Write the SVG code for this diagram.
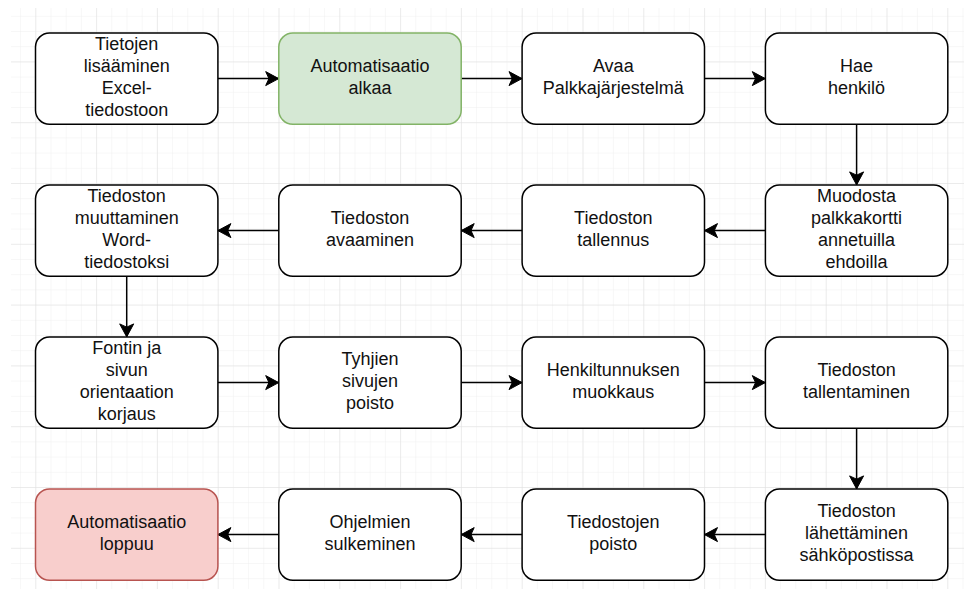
<svg xmlns="http://www.w3.org/2000/svg" width="964" height="589" viewBox="0 0 964 589">
<style>
.n rect{fill:#fff;stroke:#000;stroke-width:1.5}
.n.start rect{fill:#d5e8d4;stroke:#82b366}
.n.end rect{fill:#f8cecc;stroke:#b85450}
.n text{font-family:"Liberation Sans",Arial,sans-serif;font-size:18px;fill:#111;text-anchor:middle}
.e path{fill:none;stroke:#000;stroke-width:1.5}
</style>
<defs>
<pattern id="gmin" x="35.3" y="0.6" width="15.2" height="15.2" patternUnits="userSpaceOnUse">
<path d="M0,0 V15.2 M0,0 H15.2" fill="none" stroke="#efefef" stroke-width="1"/>
</pattern>
<pattern id="gmaj" x="35.3" y="0.6" width="60.8" height="60.8" patternUnits="userSpaceOnUse">
<path d="M0,0 V60.8 M0,0 H60.8" fill="none" stroke="#e0e0e0" stroke-width="1"/>
</pattern>
<marker id="arr" markerUnits="userSpaceOnUse" viewBox="-14 -8 15 16" refX="0" refY="0" markerWidth="15" markerHeight="16" orient="auto">
<path d="M0,0 L-13,-7 L-9.75,0 L-13,7 Z" fill="#000" stroke="#000" stroke-width="1"/>
</marker>
</defs>
<rect width="964" height="589" fill="#fff"/>
<rect x="11" y="8" width="953" height="581" fill="url(#gmin)"/>
<rect x="11" y="8" width="953" height="581" fill="url(#gmaj)"/>

<g id="edges" class="e">
<path d="M217.9,78.6 H278.7" marker-end="url(#arr)"/>
<path d="M461.2,78.6 H522" marker-end="url(#arr)"/>
<path d="M704.5,78.6 H765.3" marker-end="url(#arr)"/>
<path d="M856.6,124.2 V184.9" marker-end="url(#arr)"/>
<path d="M765.3,230.6 H704.5" marker-end="url(#arr)"/>
<path d="M522,230.6 H461.2" marker-end="url(#arr)"/>
<path d="M278.7,230.6 H217.9" marker-end="url(#arr)"/>
<path d="M126.7,276.2 V336.9" marker-end="url(#arr)"/>
<path d="M217.9,382.6 H278.7" marker-end="url(#arr)"/>
<path d="M461.2,382.6 H522" marker-end="url(#arr)"/>
<path d="M704.5,382.6 H765.3" marker-end="url(#arr)"/>
<path d="M856.6,428.2 V488.9" marker-end="url(#arr)"/>
<path d="M765.3,534.6 H704.5" marker-end="url(#arr)"/>
<path d="M522,534.6 H461.2" marker-end="url(#arr)"/>
<path d="M278.7,534.6 H217.9" marker-end="url(#arr)"/>
</g>

<g id="n1" class="n"><rect x="35.5" y="33" width="182.4" height="91.2" rx="14"/>
<text x="126.7" y="50.3">Tietojen</text><text x="126.7" y="72.2">lisääminen</text><text x="126.7" y="94.1">Excel-</text><text x="126.7" y="116">tiedostoon</text></g>
<g id="n2" class="n start"><rect x="278.8" y="33" width="182.4" height="91.2" rx="14"/>
<text x="370" y="72.2">Automatisaatio</text><text x="370" y="94.1">alkaa</text></g>
<g id="n3" class="n"><rect x="522.1" y="33" width="182.4" height="91.2" rx="14"/>
<text x="613.3" y="72.2">Avaa</text><text x="613.3" y="94.1">Palkkajärjestelmä</text></g>
<g id="n4" class="n"><rect x="765.4" y="33" width="182.4" height="91.2" rx="14"/>
<text x="856.6" y="72.2">Hae</text><text x="856.6" y="94.1">henkilö</text></g>

<g id="n5" class="n"><rect x="35.5" y="185" width="182.4" height="91.2" rx="14"/>
<text x="126.7" y="202.3">Tiedoston</text><text x="126.7" y="224.2">muuttaminen</text><text x="126.7" y="246.1">Word-</text><text x="126.7" y="268">tiedostoksi</text></g>
<g id="n6" class="n"><rect x="278.8" y="185" width="182.4" height="91.2" rx="14"/>
<text x="370" y="224.2">Tiedoston</text><text x="370" y="246.1">avaaminen</text></g>
<g id="n7" class="n"><rect x="522.1" y="185" width="182.4" height="91.2" rx="14"/>
<text x="613.3" y="224.2">Tiedoston</text><text x="613.3" y="246.1">tallennus</text></g>
<g id="n8" class="n"><rect x="765.4" y="185" width="182.4" height="91.2" rx="14"/>
<text x="856.6" y="202.3">Muodosta</text><text x="856.6" y="224.2">palkkakortti</text><text x="856.6" y="246.1">annetuilla</text><text x="856.6" y="268">ehdoilla</text></g>

<g id="n9" class="n"><rect x="35.5" y="337" width="182.4" height="91.2" rx="14"/>
<text x="126.7" y="354.3">Fontin ja</text><text x="126.7" y="376.2">sivun</text><text x="126.7" y="398.1">orientaation</text><text x="126.7" y="420">korjaus</text></g>
<g id="n10" class="n"><rect x="278.8" y="337" width="182.4" height="91.2" rx="14"/>
<text x="370" y="365.3">Tyhjien</text><text x="370" y="387.2">sivujen</text><text x="370" y="409.1">poisto</text></g>
<g id="n11" class="n"><rect x="522.1" y="337" width="182.4" height="91.2" rx="14"/>
<text x="613.3" y="376.2">Henkiltunnuksen</text><text x="613.3" y="398.1">muokkaus</text></g>
<g id="n12" class="n"><rect x="765.4" y="337" width="182.4" height="91.2" rx="14"/>
<text x="856.6" y="376.2">Tiedoston</text><text x="856.6" y="398.1">tallentaminen</text></g>

<g id="n13" class="n end"><rect x="35.5" y="489" width="182.4" height="91.2" rx="14"/>
<text x="126.7" y="528.2">Automatisaatio</text><text x="126.7" y="550.1">loppuu</text></g>
<g id="n14" class="n"><rect x="278.8" y="489" width="182.4" height="91.2" rx="14"/>
<text x="370" y="528.2">Ohjelmien</text><text x="370" y="550.1">sulkeminen</text></g>
<g id="n15" class="n"><rect x="522.1" y="489" width="182.4" height="91.2" rx="14"/>
<text x="613.3" y="528.2">Tiedostojen</text><text x="613.3" y="550.1">poisto</text></g>
<g id="n16" class="n"><rect x="765.4" y="489" width="182.4" height="91.2" rx="14"/>
<text x="856.6" y="517.3">Tiedoston</text><text x="856.6" y="539.2">lähettäminen</text><text x="856.6" y="561.1">sähköpostissa</text></g>
</svg>
